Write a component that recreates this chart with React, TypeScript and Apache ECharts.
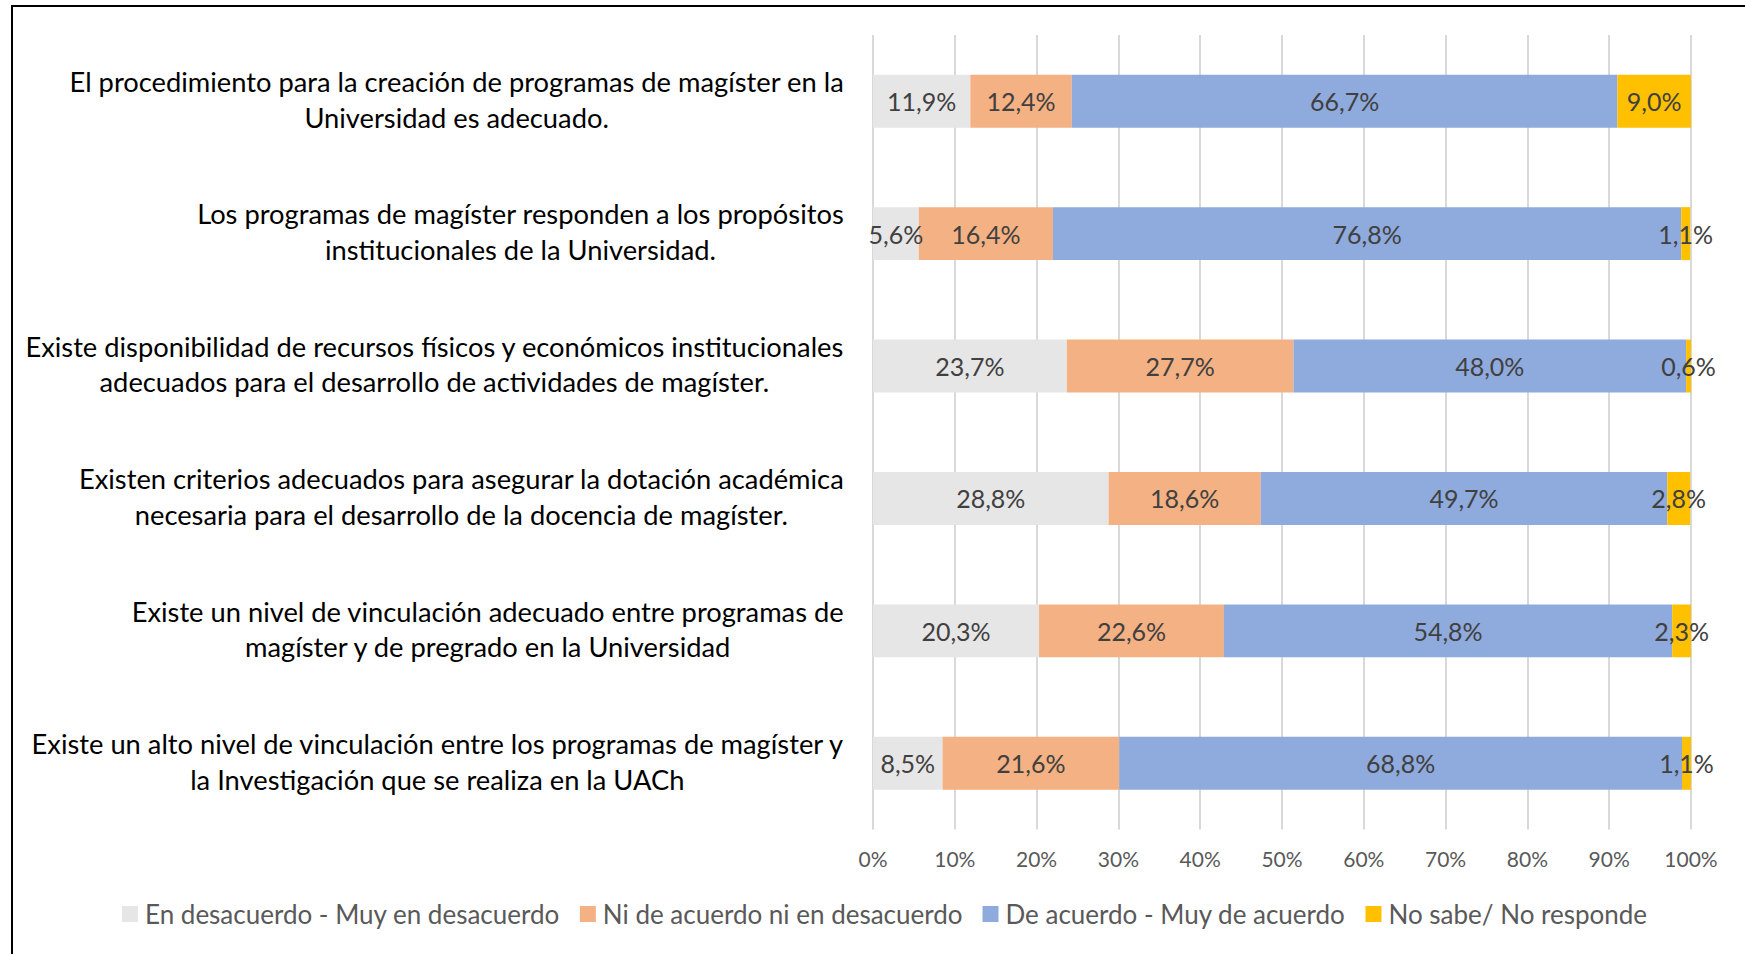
import React, { useEffect, useRef } from "react";
import * as echarts from "echarts";

const categories: string[] = [
  "El procedimiento para la creación de programas de magíster en la\nUniversidad es adecuado.",
  "Los programas de magíster responden a los propósitos\ninstitucionales de la Universidad.",
  "Existe disponibilidad de recursos físicos y económicos institucionales\nadecuados para el desarrollo de actividades de magíster.",
  "Existen criterios adecuados para asegurar la dotación académica\nnecesaria para el desarrollo de la docencia de magíster.",
  "Existe un nivel de vinculación adecuado entre programas de\nmagíster y de pregrado en la Universidad",
  "Existe un alto nivel de vinculación entre los programas de magíster y\nla Investigación que se realiza en la UACh",
];

const seriesNames: string[] = [
  "En desacuerdo - Muy en desacuerdo",
  "Ni de acuerdo ni en desacuerdo",
  "De acuerdo - Muy de acuerdo",
  "No sabe/ No responde",
];

const desacuerdo: number[] = [11.9, 5.6, 23.7, 28.8, 20.3, 8.5];
const neutral: number[] = [12.4, 16.4, 27.7, 18.6, 22.6, 21.6];
const deAcuerdo: number[] = [66.7, 76.8, 48.0, 49.7, 54.8, 68.8];
const noSabe: number[] = [9.0, 1.1, 0.6, 2.8, 2.3, 1.1];

const colors: string[] = ["#E7E6E6", "#F4B183", "#8FAADC", "#FFC000"];

const FONT = "Lato, 'Noto Sans', sans-serif";

export default function App() {
  const ref = useRef<HTMLDivElement>(null);

  useEffect(() => {
    if (!ref.current) return;
    const chart = echarts.init(ref.current, undefined, { renderer: "svg" });
    const values = [desacuerdo, neutral, deAcuerdo, noSabe];
    const series = values.map((data, i) => ({
      name: seriesNames[i],
      type: "bar",
      stack: "total",
      barWidth: "40%",
      data,
      itemStyle: { color: colors[i] },
      label: {
        show: true,
        position: "inside",
        color: "#404040",
        fontFamily: FONT,
        fontSize: 25,
        formatter: (p: any) => p.value.toFixed(1).replace(".", ",") + "%",
      },
    }));

    chart.setOption({
      animation: false,
      backgroundColor: "#ffffff",
      textStyle: { fontFamily: FONT },
      grid: { left: 873, right: 54, top: 35, bottom: 124.5, containLabel: false },
      xAxis: {
        type: "value",
        min: 0,
        max: 100,
        interval: 10,
        axisLine: { show: false },
        axisTick: { show: false },
        splitLine: { show: true, lineStyle: { color: "#D9D9D9", width: 2 } },
        axisLabel: {
          formatter: "{value}%",
          color: "#595959",
          fontSize: 21,
          fontFamily: FONT,
          margin: 18,
        },
      },
      yAxis: {
        type: "category",
        inverse: true,
        data: categories,
        axisLine: { show: false },
        axisTick: { show: false },
        axisLabel: {
          margin: 29,
          align: "right",
          padding: [0, 0, 4, 0],
          formatter: (v: string) =>
            v
              .split("\n")
              .map((l) => "{c|" + l + "}")
              .join("\n"),
          rich: {
            c: {
              align: "center",
              fontSize: 27.3,
              lineHeight: 35.6,
              color: "#000000",
              fontFamily: FONT,
            },
          },
        },
      },
      legend: {
        left: 117,
        top: 896,
        itemWidth: 16,
        itemHeight: 16,
        itemGap: 20,
        icon: "rect",
        data: seriesNames,
        textStyle: {
          color: "#595959",
          fontSize: 26,
          fontFamily: FONT,
          padding: [0, 0, 0, 2],
        },
      },
      graphic: [
        {
          type: "line",
          shape: { x1: 11, y1: 6, x2: 1745, y2: 6 },
          style: { stroke: "#000000", lineWidth: 2 },
        },
        {
          type: "line",
          shape: { x1: 12, y1: 5, x2: 12, y2: 954 },
          style: { stroke: "#000000", lineWidth: 2 },
        },
      ],
      series,
    });

    return () => chart.dispose();
  }, []);

  return (
    <div
      ref={ref}
      style={{ position: "absolute", left: 0, top: 0, width: 1745, height: 954 }}
    />
  );
}
